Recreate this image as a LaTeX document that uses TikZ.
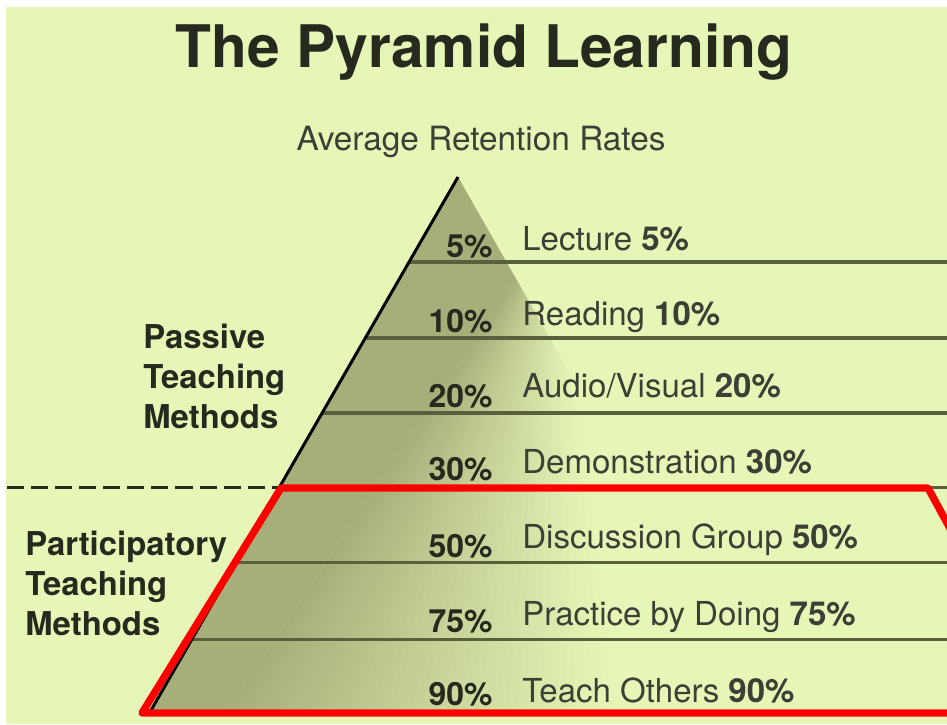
\documentclass[tikz,border=0pt]{standalone}
\usepackage{fontspec}
\setmainfont{TeX Gyre Heros}
\usetikzlibrary{calc}

\definecolor{pagebg}{RGB}{230,246,182}
\definecolor{pyrdark}{RGB}{166,174,122}
\definecolor{levelcol}{RGB}{88,96,62}
\definecolor{inkcol}{RGB}{38,42,30}
\definecolor{markred}{RGB}{255,0,0}

\tikzset{
  pct/.style={anchor=base east, inner sep=0pt, text=inkcol,
    font=\fontsize{18.2}{22}\selectfont\bfseries},
  method/.style={anchor=base west, inner sep=0pt, text=inkcol!90,
    font=\fontsize{18.8}{22}\selectfont},
  groupname/.style={anchor=north west, align=left, inner sep=0pt, text=inkcol,
    font=\fontsize{18.7}{22.8}\selectfont\bfseries},
  levelline/.style={draw=levelcol, line width=1.8pt},
  divider/.style={draw=inkcol, line width=1.7pt, dash pattern=on 9.7pt off 4pt},
  edge/.style={draw=black, line width=1.7pt},
  highlight/.style={draw=markred, line width=4.2pt, line join=round}
}

\begin{document}
\begin{tikzpicture}[x=0.02cm, y=-0.02cm]
  \useasboundingbox (0,0) rectangle (947,724);
  \fill[white] (0,0) rectangle (947,724);
  \fill[pagebg] (6,7) rectangle (947,724);

  % corners of the pyramid
  \coordinate (apex) at (458,177);
  \coordinate (base) at (150,712);
  \coordinate (lit) at (763,712);
  \coordinate (east) at (947,712);
  \coordinate (west) at (7,712);

  % fade band of the body, from (darkt)-(darkb) to (fadet)-(fadeb)
  \coordinate (darkt) at (585,177);
  \coordinate (darkb) at (225,712);
  \coordinate (fadet) at (550,177);
  \coordinate (fadeb) at (615,712);

  % body: dark on the left, fading out to the right
  \begin{scope}
    \clip (apex) -- (base) -- (lit) -- cycle;
    \fill[pyrdark] (0,177) -- (darkt) -- (darkb) -- (0,712) -- cycle;
    \foreach \i in {0,...,39}{
      \pgfmathsetmacro{\ta}{\i/40}
      \pgfmathsetmacro{\tb}{min((\i+1.6)/40,1)}
      \pgfmathsetmacro{\p}{100-100*(\i+0.5)/40}
      \fill[pyrdark!\p!pagebg]
        ($(darkt)!\ta!(fadet)$) -- ($(darkb)!\ta!(fadeb)$)
        -- ($(darkb)!\tb!(fadeb)$) -- ($(darkt)!\tb!(fadet)$) -- cycle;
    }
  \end{scope}

  % levels
  \foreach \t/\n in {0.159/1, 0.301/2, 0.441/3, 0.581/4, 0.721/5, 0.865/6}
    \coordinate (lv\n) at ($(apex)!\t!(base)$);
  \foreach \n in {1,...,6}
    \draw[levelline] (lv\n) -- (lv\n -| east);
  \draw[divider] (lv4 -| west) -- (lv4);
  \draw[edge] (apex) -- (base);

  % titles
  \node[anchor=base, inner sep=0pt, text=inkcol,
    font=\fontsize{33.4}{40}\selectfont\bfseries] (title) at (484,67) {The Pyramid Learning};
  \node[anchor=base, inner sep=0pt, text=inkcol!90,
    font=\fontsize{19}{22}\selectfont] (subtitle) at (481,150) {Average Retention Rates};

  % rates
  \foreach \y/\v in {257/5, 332/10, 407/20, 480/30, 557/50, 632/75, 705/90}
    \node[pct] (p\v) at (493,\y) {\v\%};
  \foreach \y/\m/\v in {250/Lecture/5, 325/Reading/10, 397/{Audio/Visual}/20,
      473/Demonstration/30, 548/Discussion Group/50, 625/Practice by Doing/75,
      702/Teach Others/90}
    \node[method] (m\v) at (522,\y) {\m\ \textbf{\v\%}};

  % groups
  \node[groupname] (passive) at (143,324) {Passive\\Teaching\\Methods};
  \node[groupname] (particip) at (25,531) {Participatory\\Teaching\\Methods};

  % marked lower part
  \draw[highlight] (990,713) -- (142,713) -- (281,488) -- (928,488) -- (976,576);
\end{tikzpicture}
\end{document}
